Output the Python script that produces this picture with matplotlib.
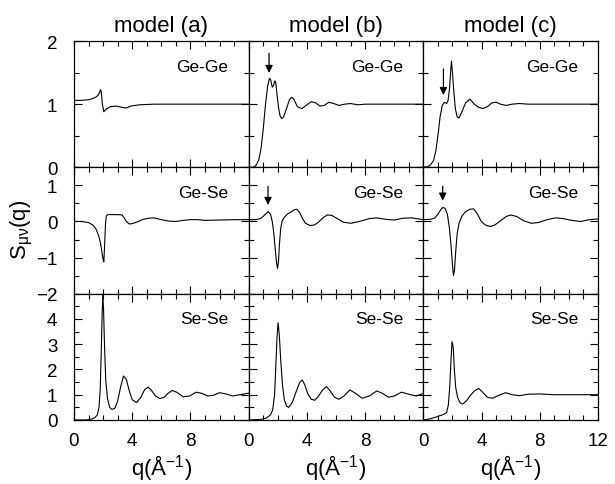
import matplotlib
matplotlib.use("Agg")
from matplotlib import pyplot as plt
from matplotlib.ticker import MultipleLocator

plt.rcParams["font.family"] = "Liberation Sans"
plt.rcParams["mathtext.fontset"] = "custom"
plt.rcParams["mathtext.rm"] = "Liberation Sans"
plt.rcParams["mathtext.default"] = "regular"

models = ["model (a)", "model (b)", "model (c)"]
pairs = ["Ge-Ge", "Ge-Se", "Se-Se"]

# Ge-Ge
q_gege_a = [0, 0.5, 1.0, 1.3, 1.5, 1.65, 1.75, 1.82, 1.87, 1.95, 2.05, 2.2, 2.5, 2.9, 3.3, 3.6, 3.9, 4.5, 5.5, 7, 9, 12]
s_gege_a = [1.06, 1.06, 1.07, 1.09, 1.11, 1.14, 1.18, 1.23, 1.2, 1.0, 0.88, 0.92, 0.96, 0.97, 0.95, 0.94, 0.97, 0.99, 1.0, 1.0, 1.0, 1.0]

q_gege_b = [0, 0.3, 0.5, 0.7, 0.85, 1.0, 1.15, 1.3, 1.43, 1.52, 1.62, 1.7, 1.8, 1.87, 1.95, 2.05, 2.15, 2.27, 2.4, 2.6,
            2.8, 2.95, 3.1, 3.35, 3.65, 4.0, 4.3, 4.6, 4.9, 5.2, 5.5, 5.85, 6.2, 6.6, 7.0, 7.5, 8, 9, 10, 11, 12]
s_gege_b = [0, 0.0, 0.03, 0.12, 0.3, 0.6, 0.98, 1.28, 1.41, 1.38, 1.27, 1.29, 1.37, 1.33, 1.15, 0.95, 0.82, 0.77, 0.8, 0.93,
            1.07, 1.11, 1.08, 0.96, 0.93, 0.99, 1.04, 1.02, 0.97, 0.98, 1.03, 1.01, 0.98, 1.0, 1.01, 0.99, 1.0, 1.0, 1.0, 1.0, 1.0]

q_gege_c = [0, 0.3, 0.5, 0.7, 0.85, 1.0, 1.15, 1.3, 1.45, 1.6, 1.7, 1.8, 1.87, 1.93, 2.0, 2.1, 2.2, 2.32, 2.45, 2.65,
            2.9, 3.2, 3.5, 3.8, 4.1, 4.4, 4.7, 5.0, 5.3, 5.7, 6.1, 6.6, 7.2, 8, 9, 10, 11, 12]
s_gege_c = [0, 0.01, 0.04, 0.11, 0.25, 0.5, 0.8, 0.98, 1.03, 1.01, 1.06, 1.25, 1.5, 1.68, 1.5, 1.18, 0.93, 0.8, 0.78, 0.88,
            1.02, 1.08, 1.0, 0.95, 0.93, 0.96, 1.02, 1.03, 1.0, 0.98, 1.0, 1.01, 1.0, 1.0, 1.0, 1.0, 1.0, 1.0]

# Ge-Se
q_gese_a = [0, 0.5, 1.0, 1.3, 1.5, 1.7, 1.82, 1.92, 2.0, 2.05, 2.1, 2.16, 2.22, 2.3, 2.5, 3.0, 3.3, 3.45, 3.6, 3.8,
            4.0, 4.3, 4.7, 5.1, 5.5, 6.0, 6.5, 7.0, 7.5, 8, 8.5, 9, 10, 11, 12]
s_gese_a = [0.0, 0.0, -0.03, -0.1, -0.2, -0.4, -0.6, -0.85, -1.05, -1.12, -0.7, -0.1, 0.15, 0.19, 0.19, 0.19, 0.18, 0.1, 0.0, -0.07,
            -0.06, -0.02, 0.05, 0.09, 0.1, 0.05, 0.01, 0.0, 0.03, 0.05, 0.05, 0.03, 0.04, 0.05, 0.05]

q_gese_b = [0, 0.5, 0.8, 1.0, 1.2, 1.35, 1.5, 1.62, 1.72, 1.82, 1.92, 1.98, 2.05, 2.12, 2.2, 2.3, 2.45, 2.65, 2.9, 3.1,
            3.3, 3.5, 3.7, 3.9, 4.2, 4.5, 4.8, 5.1, 5.4, 5.7, 6.0, 6.5, 7.0, 7.6, 8.3, 8.8, 9.4, 10.0, 10.6, 11.2, 12]
s_gese_b = [0.05, 0.05, 0.08, 0.14, 0.22, 0.27, 0.2, 0.0, -0.3, -0.75, -1.15, -1.3, -1.1, -0.6, -0.2, 0.02, 0.12, 0.2, 0.26, 0.32,
            0.34, 0.25, 0.08, -0.05, -0.11, -0.1, -0.02, 0.1, 0.18, 0.17, 0.1, -0.02, -0.05, 0.0, 0.08, 0.1, 0.06, 0.04, 0.09, 0.1, 0.05]

q_gese_c = [0, 0.5, 0.8, 1.0, 1.2, 1.35, 1.5, 1.65, 1.78, 1.9, 2.0, 2.07, 2.14, 2.22, 2.32, 2.45, 2.65, 2.9, 3.2, 3.45,
            3.7, 3.95, 4.25, 4.6, 4.9, 5.3, 5.7, 6.0, 6.4, 6.9, 7.4, 7.9, 8.5, 9.1, 9.6, 10.2, 10.8, 11.4, 12]
s_gese_c = [0.05, 0.06, 0.1, 0.2, 0.33, 0.39, 0.36, 0.2, -0.15, -0.65, -1.2, -1.5, -1.35, -0.85, -0.35, -0.05, 0.15, 0.27, 0.34, 0.35,
            0.22, 0.02, -0.1, -0.14, -0.1, 0.02, 0.14, 0.18, 0.14, 0.02, -0.05, -0.03, 0.05, 0.1, 0.08, 0.03, 0.0, 0.05, 0.07]

# Se-Se
q_sese_a = [0, 0.8, 1.2, 1.45, 1.6, 1.72, 1.8, 1.87, 1.93, 1.98, 2.03, 2.1, 2.18, 2.3, 2.45, 2.6, 2.8, 3.0, 3.2, 3.4,
            3.6, 3.8, 4.0, 4.3, 4.6, 4.85, 5.1, 5.35, 5.6, 5.9, 6.2, 6.45, 6.75, 7.05, 7.5, 7.95, 8.4, 8.8, 9.2, 9.6,
            10.0, 10.45, 10.9, 11.4, 12]
s_sese_a = [0, 0.0, 0.03, 0.1, 0.2, 0.5, 1.2, 2.6, 4.1, 4.95, 4.4, 2.9, 1.6, 0.85, 0.5, 0.42, 0.46, 0.75, 1.3, 1.74,
            1.6, 1.15, 0.8, 0.69, 0.9, 1.2, 1.3, 1.15, 0.95, 0.85, 0.9, 1.05, 1.17, 1.1, 0.92, 0.95, 1.1, 1.05, 0.95, 0.98,
            1.08, 1.03, 0.95, 1.0, 1.06]

q_sese_b = [0, 0.8, 1.2, 1.5, 1.65, 1.78, 1.87, 1.95, 2.02, 2.1, 2.2, 2.32, 2.45, 2.6, 2.75, 3.0, 3.25, 3.5, 3.68, 3.85,
            4.05, 4.3, 4.55, 4.8, 5.1, 5.35, 5.6, 5.9, 6.2, 6.55, 6.95, 7.35, 7.8, 8.3, 8.8, 9.2, 9.6, 10.0, 10.5, 11.0, 11.5, 12]
s_sese_b = [0, 0.02, 0.07, 0.2, 0.4, 1.0, 2.2, 3.3, 3.85, 3.4, 2.4, 1.4, 0.8, 0.55, 0.5, 0.7, 1.1, 1.48, 1.58, 1.4,
            1.05, 0.82, 0.78, 0.95, 1.2, 1.32, 1.15, 0.9, 0.82, 0.95, 1.19, 1.05, 0.86, 0.95, 1.15, 1.05, 0.9, 0.95, 1.1, 1.02, 0.95, 1.05]

q_sese_c = [0, 0.5, 1.0, 1.4, 1.6, 1.72, 1.82, 1.9, 1.97, 2.05, 2.13, 2.22, 2.35, 2.5, 2.7, 2.95, 3.2, 3.5, 3.8, 4.1,
            4.4, 4.75, 5.2, 5.65, 6.1, 6.6, 7.2, 8, 9, 10, 11, 12]
s_sese_c = [0, 0.05, 0.14, 0.22, 0.3, 0.6, 1.4, 2.4, 3.1, 2.9, 2.0, 1.3, 0.9, 0.7, 0.63, 0.75, 0.95, 1.15, 1.25, 1.08,
            0.9, 0.86, 0.98, 1.08, 1.0, 0.96, 1.02, 1.03, 1.0, 1.0, 1.0, 1.0]

curves = [
    [(q_gege_a, s_gege_a), (q_gege_b, s_gege_b), (q_gege_c, s_gege_c)],
    [(q_gese_a, s_gese_a), (q_gese_b, s_gese_b), (q_gese_c, s_gese_c)],
    [(q_sese_a, s_sese_a), (q_sese_b, s_sese_b), (q_sese_c, s_sese_c)],
]

# arrows: (row, col, q, tail, head)
arrows = [
    (0, 1, 1.4, 1.85, 1.45),
    (0, 2, 1.38, 1.6, 1.1),
    (1, 1, 1.33, 1.05, 0.38),
    (1, 2, 1.33, 1.05, 0.5),
]

ylims = [(0, 2), (-2, 1.5), (0, 5)]
yticks = [[0, 1, 2], [-2, -1, 0, 1], [0, 1, 2, 3, 4]]

fig, axes = plt.subplots(3, 3, figsize=(6.15, 4.85), dpi=100)
plt.subplots_adjust(left=0.1203, right=0.9724, top=0.9134, bottom=0.132, hspace=0, wspace=0)

for r in range(3):
    for c in range(3):
        ax = axes[r, c]
        q, s = curves[r][c]
        ax.plot(q, s, color="black", lw=0.8)
        ax.set_xlim(0, 12)
        ax.set_ylim(*ylims[r])
        ax.set_xticks([0, 4, 8, 12])
        ax.xaxis.set_minor_locator(MultipleLocator(1))
        ax.set_yticks(yticks[r])
        ax.yaxis.set_minor_locator(MultipleLocator(0.5))
        ax.tick_params(which="both", direction="in", top=True, right=True, width=0.8)
        ax.tick_params(which="major", length=6)
        ax.tick_params(which="minor", length=3.5)
        ax.tick_params(axis="y", pad=12, labelsize=13.5)
        ax.tick_params(axis="x", pad=9, labelsize=13.5)
        for sp in ax.spines.values():
            sp.set_linewidth(0.9)
        if c > 0:
            ax.set_yticklabels([])
        if r < 2:
            ax.set_xticklabels([])
        else:
            if c < 2:
                ax.set_xticklabels(["0", "4", "8", ""])
            ax.set_xlabel("q(Å$^{-1}$)", fontsize=16, labelpad=2)
        if r == 0:
            ax.set_title(models[c], fontsize=16, pad=7)
        ax.text(0.885, 0.8, pairs[r], transform=ax.transAxes, ha="right", va="center", fontsize=12.5)

for r, c, qa, tail, head in arrows:
    axes[r, c].annotate("", xy=(qa, head), xytext=(qa, tail),
                        arrowprops=dict(arrowstyle="-|>", color="black", lw=0.9, mutation_scale=11))

fig.text(0.035, 0.525, r"S$_{\mu\nu}$(q)", rotation=90, ha="center", va="center", fontsize=16)

plt.savefig("out.png")
